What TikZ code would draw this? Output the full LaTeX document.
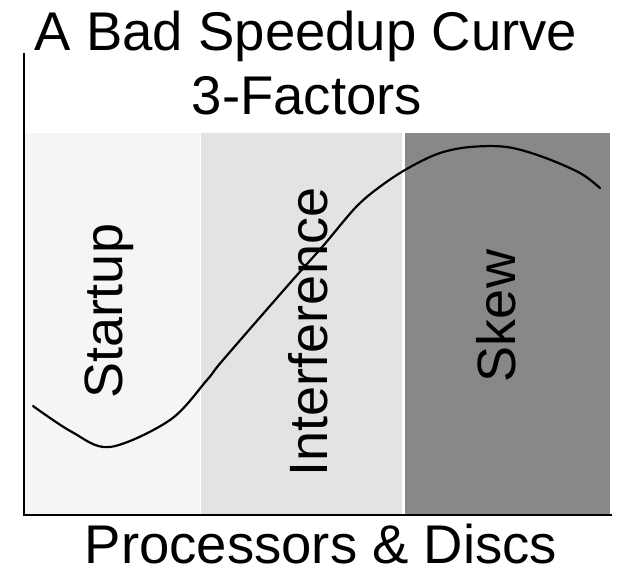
\documentclass[tikz,border=0pt]{standalone}
\usepackage{fontspec}
\setmainfont{Liberation Sans}
\definecolor{startupgray}{HTML}{F5F5F5}
\definecolor{interfgray}{HTML}{E3E3E3}
\definecolor{skewgray}{HTML}{888888}
\begin{document}
\begin{tikzpicture}[x=1pt,y=-1pt,
  bigtext/.style={inner sep=0pt,font=\fontsize{54.5}{60}\selectfont},
  bandtext/.style={inner sep=0pt,rotate=90,anchor=base,font=\fontsize{54}{60}\selectfont},
  axisline/.style={line width=2pt,black},
  curveline/.style={line width=2.2pt,black,line join=round,line cap=round}]
\useasboundingbox (0,0) rectangle (621,573);
\fill[white] (0,0) rectangle (621,573);
% bands
\fill[startupgray] (25,133) rectangle (200,514);
\fill[interfgray] (201,133) rectangle (402,514);
\fill[skewgray] (405,133) rectangle (610,514);
% axes
\draw[axisline] (24,53) -- (24,515) -- (612,515);
% titles
\node[bigtext,anchor=base] (title) at (306,50) {A Bad Speedup Curve};
\node[bigtext,anchor=base] (sub) at (307,114) {3-Factors};
\node[bigtext,anchor=base] (xlabel) at (321,563) {Processors \& Discs};
% band labels
\node[bandtext] (startup) at (122,311) {Startup};
\node[bandtext] (interf) at (327,332) {Interference};
\node[bandtext] (skew) at (515,316) {Skew};
% curve
\draw[curveline] plot[smooth,tension=0.55] coordinates {(33,406) (72,432) (110,447) (170,420) (207,380) (223,360) (290,283) (323,246) (357,206) (385,183) (412,166) (440,153) (470,147) (507,147) (543,157) (580,173) (600,188)};
\end{tikzpicture}
\end{document}
